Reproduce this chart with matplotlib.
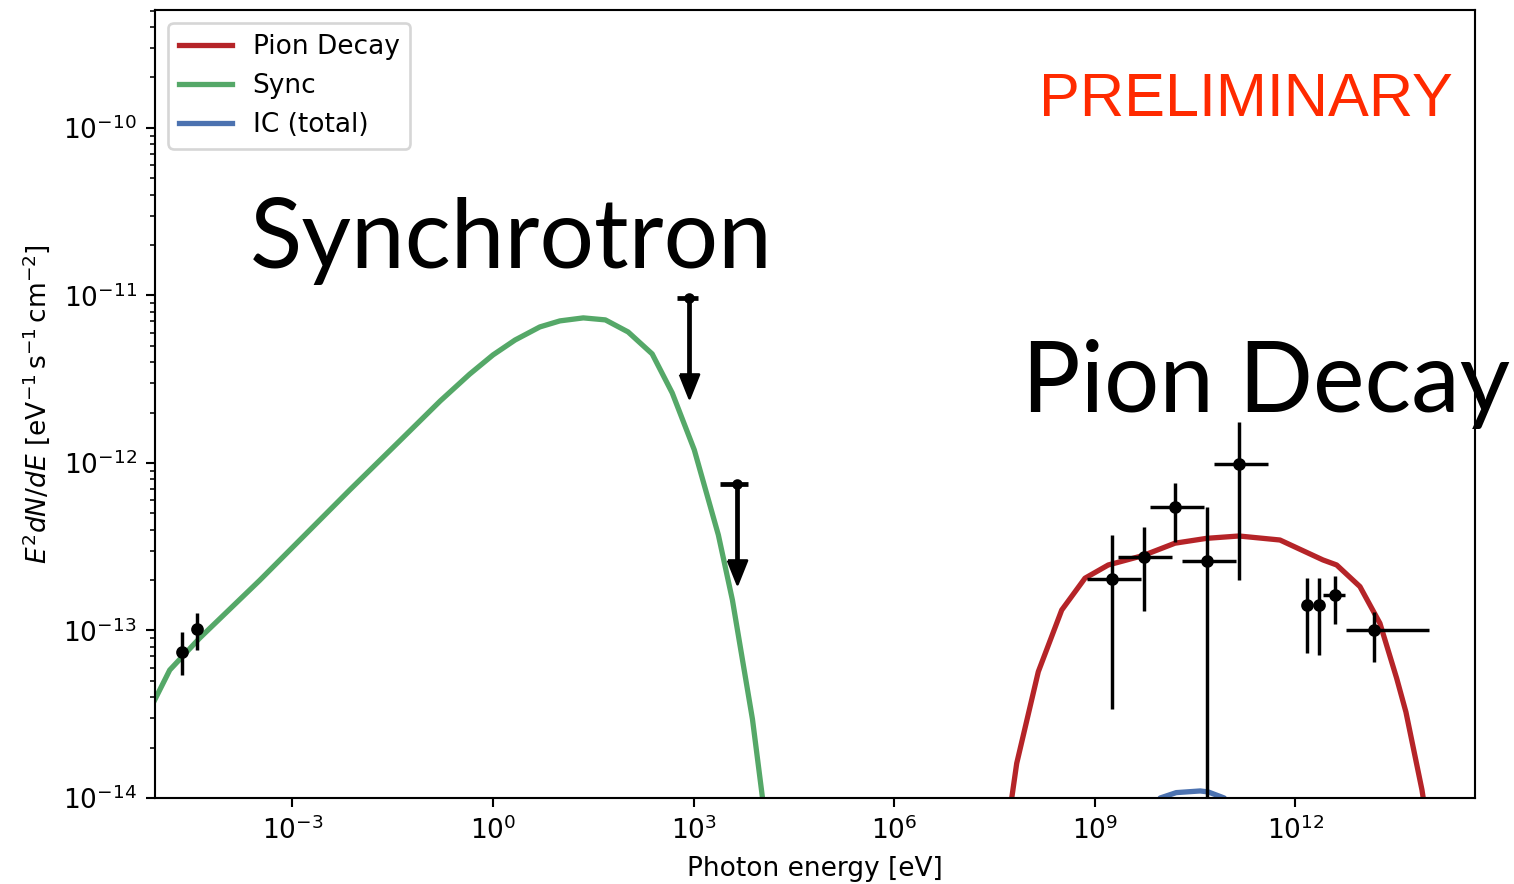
import numpy as np
import matplotlib
matplotlib.use("Agg")
import matplotlib.pyplot as plt
from matplotlib.ticker import NullLocator

# model curves, stored as log10(E [eV]) and log10(E^2 dN/dE)
log_e_sync = [-5.06, -4.835, -4.386, -3.488, -2.14, -1.40, -0.79, -0.35, 0.0, 0.33, 0.70,
              1.0, 1.35, 1.68, 2.02, 2.38, 2.68, 3.01, 3.37, 3.58, 3.88, 4.03, 4.10]
log_f_sync = [-13.415, -13.236, -13.045, -12.70, -12.16, -11.87, -11.63, -11.47, -11.355,
              -11.266, -11.188, -11.152, -11.134, -11.146, -11.218, -11.349, -11.582,
              -11.922, -12.43, -12.818, -13.53, -14.0, -14.3]

log_e_pion = [7.70, 7.757, 7.832, 8.155, 8.505, 8.853, 9.201, 9.720, 10.199, 10.673,
              11.156, 11.769, 12.412, 12.617, 12.965, 13.264, 13.514, 13.653, 13.893, 13.95]
log_f_pion = [-14.3, -14.002, -13.793, -13.246, -12.878, -12.688, -12.609, -12.553,
              -12.479, -12.450, -12.436, -12.460, -12.579, -12.609, -12.738, -12.957,
              -13.285, -13.487, -13.952, -14.1]

log_e_ic = [9.70, 9.978, 10.217, 10.576, 10.696, 10.935, 11.20]
log_f_ic = [-14.3, -14.0, -13.968, -13.958, -13.964, -14.0, -14.3]

# radio points
radio_e = [2.2e-5, 3.8e-5]
radio_f = [7.45e-14, 1.016e-13]
radio_f_lo = [5.42e-14, 7.66e-14]
radio_f_hi = [9.8e-14, 1.276e-13]

# X-ray upper limits
ul_e = [860.0, 4500.0]
ul_de = [300.0, 2000.0]
ul_f = [9.66e-12, 7.5e-13]
ul_frac = 0.65

# gamma-ray spectral points (bin edges and flux bounds)
gam_e = [1.80e9, 5.35e9, 1.59e10, 4.74e10, 1.45e11, 1.49e12, 2.22e12, 3.85e12, 1.51e13]
gam_e_lo = [7.6e8, 2.26e9, 6.73e9, 2.0e10, 5.96e10, 1.49e12, 2.22e12, 2.63e12, 5.75e12]
gam_e_hi = [4.89e9, 1.45e10, 4.33e10, 1.29e11, 3.88e11, 1.49e12, 2.22e12, 5.56e12, 1.0e14]
gam_f = [2.03e-13, 2.74e-13, 5.48e-13, 2.61e-13, 9.86e-13, 1.42e-13, 1.42e-13, 1.63e-13, 1.0e-13]
gam_f_lo = [3.40e-14, 1.31e-13, 3.39e-13, 0.0, 2.0e-13, 7.31e-14, 7.15e-14, 1.10e-13, 6.52e-14]
gam_f_hi = [3.72e-13, 4.13e-13, 7.56e-13, 5.44e-13, 1.75e-12, 2.05e-13, 2.05e-13, 2.10e-13, 1.29e-13]

fig = plt.figure(figsize=(1514 / 190, 884 / 190), dpi=190)
ax = fig.add_axes([0.1024, 0.0973, 0.8718, 0.8914])

ax.plot(10 ** np.array(log_e_pion), 10 ** np.array(log_f_pion), color="#b52428", lw=2, label="Pion Decay")
ax.plot(10 ** np.array(log_e_sync), 10 ** np.array(log_f_sync), color="#55a868", lw=2, label="Sync")
ax.plot(10 ** np.array(log_e_ic), 10 ** np.array(log_f_ic), color="#4c72b0", lw=2, label="IC (total)")

# data points
rf = np.array(radio_f)
ax.errorbar(radio_e, rf, yerr=[rf - np.array(radio_f_lo), np.array(radio_f_hi) - rf],
            fmt="o", color="k", ms=3.8, elinewidth=1.3, capsize=0, zorder=5)

ge = np.array(gam_e)
gf = np.array(gam_f)
ax.errorbar(ge, gf,
            xerr=[ge - np.array(gam_e_lo), np.array(gam_e_hi) - ge],
            yerr=[gf - np.array(gam_f_lo), np.array(gam_f_hi) - gf],
            fmt="o", color="k", ms=3.8, elinewidth=1.3, capsize=0, zorder=5)

# upper limits: narrow filled arrow heads at the lower end
uf = np.array(ul_f)
_, ul_caps, _ = ax.errorbar(ul_e, uf, xerr=ul_de, yerr=uf * ul_frac, uplims=True,
                            fmt="o", color="k", ms=3.0, elinewidth=1.8, capsize=0, zorder=5)
head = [(-0.8, 0.0), (0.0, -2.0), (0.8, 0.0), (-0.8, 0.0)]
for cap in ul_caps:
    cap.set_marker(head)
    cap.set_markersize(18)

ax.set_xscale("log")
ax.set_yscale("log")
ax.set_xlim(10 ** -5.055, 10 ** 14.685)
ax.set_ylim(1e-14, 10 ** -9.296)
ax.set_xticks(10.0 ** np.arange(-3, 13, 3))
ax.xaxis.set_minor_locator(NullLocator())

ax.set_xlabel("Photon energy [eV]")
ax.set_ylabel(r"$E^2 dN/dE$ [$\mathrm{eV^{-1}\,s^{-1}\,cm^{-2}}$]")
ax.legend(loc="upper left")

fig.text(250 / 1514, 1 - 268 / 884, "Synchrotron", fontsize=36.5, family="Lato",
         ha="left", va="baseline")
fig.text(1022 / 1514, 1 - 412 / 884, "Pion Decay", fontsize=37, family="Lato",
         ha="left", va="baseline")
fig.text(1453 / 1514, 1 - 116 / 884, "PRELIMINARY", fontsize=23.2, family="Liberation Sans",
         color="#ff2a00", ha="right", va="baseline")

fig.savefig("out.png", dpi=190)
